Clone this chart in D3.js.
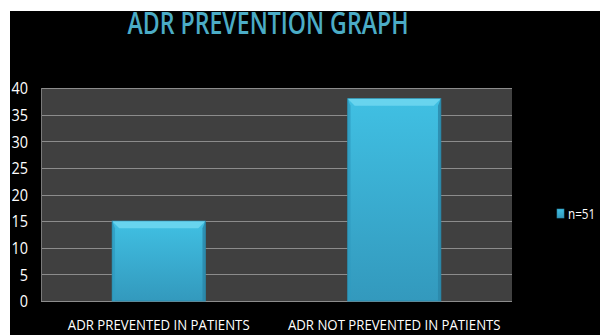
<!DOCTYPE html>
<html>
<head>
<meta charset="utf-8">
<script src="https://cdn.jsdelivr.net/npm/d3@7"></script>
<style>
  html, body { margin: 0; padding: 0; background: #ffffff; }
  svg { display: block; }
</style>
</head>
<body>
<svg id="chart" width="600" height="335"></svg>
<script>
// Chart data
const categories = ["ADR PREVENTED IN PATIENTS", "ADR NOT PREVENTED IN PATIENTS"];
const seriesName = "n=51";
const seriesValues = [15, 38];
const yTicks = [0, 5, 10, 15, 20, 25, 30, 35, 40];

const svg = d3.select("#chart");
const W = 600, H = 335;
const FONT = "'Open Sans', sans-serif";

// narrow a text element horizontally, like a condensed face
function condense(sel, k) {
  sel.each(function () {
    const len = this.getComputedTextLength();
    d3.select(this).attr("textLength", len * k).attr("lengthAdjust", "spacingAndGlyphs");
  });
}

// black slide background (white margin on the left and top)
svg.append("rect").attr("x", 10).attr("y", 11).attr("width", W - 10).attr("height", H - 11).attr("fill", "#000");

const plot = { left: 41, right: 512, top: 88, bottom: 301 };

const x = d3.scaleBand()
  .domain(categories)
  .range([plot.left, plot.right])
  .paddingInner(0.605)
  .paddingOuter(0.3025);

const y = d3.scaleLinear().domain([0, 40]).range([plot.bottom, plot.top]);

// plot area
svg.append("rect")
  .attr("x", plot.left).attr("y", plot.top)
  .attr("width", plot.right - plot.left).attr("height", plot.bottom - plot.top)
  .attr("fill", "#404040");

// gridlines
svg.append("g").selectAll("line").data(yTicks).join("line")
  .attr("x1", plot.left).attr("x2", plot.right)
  .attr("y1", d => Math.round(y(d)) + 0.5).attr("y2", d => Math.round(y(d)) + 0.5)
  .attr("stroke", "#8c8c8c").attr("stroke-width", 1.2);
svg.append("line")
  .attr("x1", plot.left + 0.5).attr("x2", plot.left + 0.5)
  .attr("y1", plot.top).attr("y2", plot.bottom)
  .attr("stroke", "#7a7a7a").attr("stroke-width", 1);

// y axis labels
const yAxis = d3.axisLeft(y).tickValues(yTicks).tickSize(0).tickPadding(13);
const gy = svg.append("g").attr("transform", `translate(${plot.left},0)`).call(yAxis);
gy.select(".domain").remove();
gy.selectAll("text")
  .attr("fill", "#fff")
  .attr("font-family", FONT)
  .attr("font-size", 17)
  .attr("dy", "0.34em")
  .call(condense, 0.85);

// category labels
const xAxis = d3.axisBottom(x).tickSize(0).tickPadding(0);
const gx = svg.append("g").attr("transform", `translate(0,${plot.bottom})`).call(xAxis);
gx.select(".domain").remove();
gx.selectAll("text")
  .attr("fill", "#fff")
  .attr("font-family", FONT)
  .attr("font-size", 15)
  .attr("y", 29)
  .attr("dy", 0)
  .call(condense, 0.88);

// bar gradients
const defs = svg.append("defs");
const g1 = defs.append("linearGradient").attr("id", "barFill").attr("x1", 0).attr("x2", 0).attr("y1", 0).attr("y2", 1);
g1.append("stop").attr("offset", "0%").attr("stop-color", "#40c0e3");
g1.append("stop").attr("offset", "100%").attr("stop-color", "#3399bd");

const bev = 7;
const bars = svg.append("g").selectAll("g").data(seriesValues).join("g");
bars.each(function (v, i) {
  const g = d3.select(this);
  const x0 = x(categories[i]), w = x.bandwidth();
  const y0 = y(v), y1 = y(0);
  g.append("rect").attr("x", x0).attr("y", y0).attr("width", w).attr("height", y1 - y0)
    .attr("fill", "url(#barFill)").attr("stroke", "#2a88a8").attr("stroke-width", 1);
  // top bevel highlight
  g.append("polygon")
    .attr("points", [[x0, y0], [x0 + w, y0], [x0 + w - bev, y0 + bev], [x0 + bev, y0 + bev]].join(" "))
    .attr("fill", "#6dd6f0").attr("opacity", 0.9);
  // left bevel
  g.append("polygon")
    .attr("points", [[x0, y0], [x0 + bev * 0.4, y0 + bev], [x0 + bev * 0.4, y1], [x0, y1]].join(" "))
    .attr("fill", "#2f9cc0").attr("opacity", 0.8);
  // right bevel
  g.append("polygon")
    .attr("points", [[x0 + w, y0], [x0 + w - bev * 0.4, y0 + bev], [x0 + w - bev * 0.4, y1], [x0 + w, y1]].join(" "))
    .attr("fill", "#2a86a8").attr("opacity", 0.8);
});

// title
svg.append("text")
  .attr("x", 268).attr("y", 34)
  .attr("text-anchor", "middle")
  .attr("fill", "#4bacc6")
  .attr("font-family", FONT)
  .attr("font-weight", 600)
  .attr("font-size", 31)
  .attr("textLength", 281)
  .attr("lengthAdjust", "spacingAndGlyphs")
  .text("ADR PREVENTION GRAPH");

// legend
const lg = svg.append("g").attr("transform", "translate(557,209)");
lg.append("rect").attr("width", 7).attr("height", 9).attr("fill", "url(#barFill)").attr("stroke", "#2a88a8").attr("stroke-width", 0.6);
lg.append("g").attr("transform", "translate(11,0) scale(0.78,1)")
  .append("text").attr("x", 0).attr("y", 5).attr("dy", "0.35em")
  .attr("fill", "#fff").attr("font-family", FONT).attr("font-size", 15)
  .text(seriesName);
</script>
</body>
</html>
